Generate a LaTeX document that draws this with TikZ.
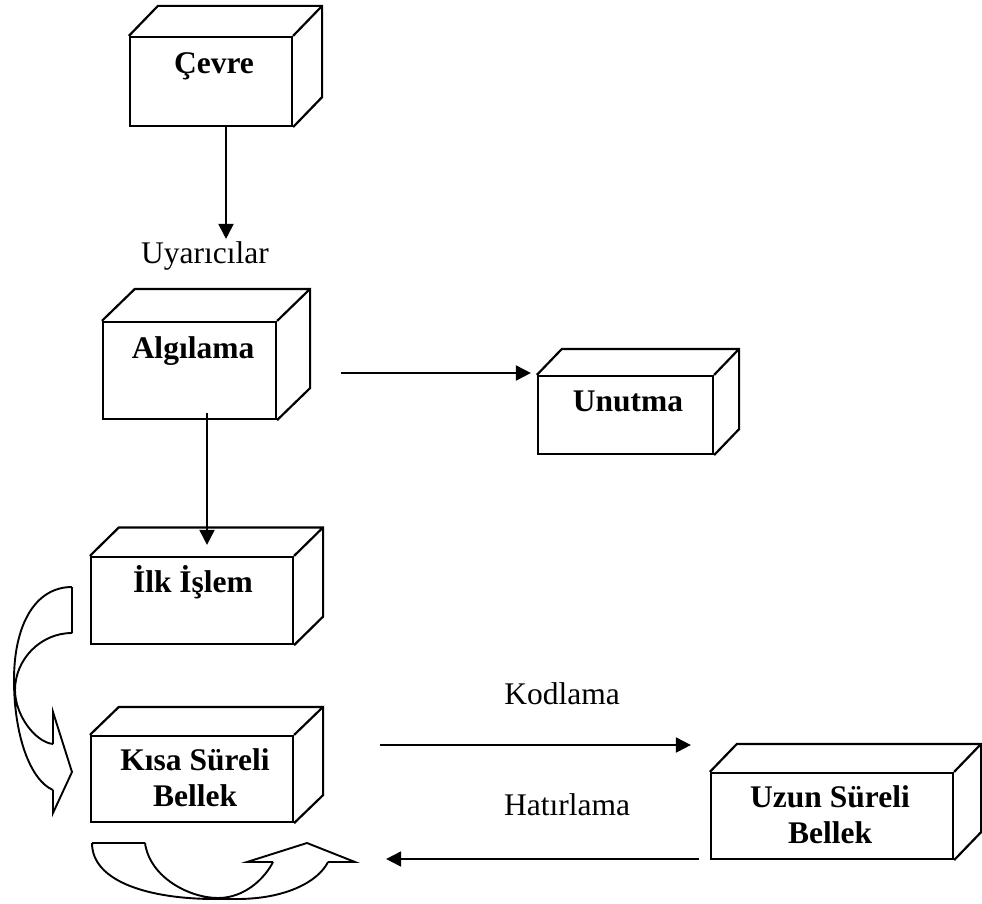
\documentclass[tikz,border=0pt]{standalone}
\usepackage{fontspec}
\setmainfont{Liberation Serif}
\usetikzlibrary{arrows.meta}
\newcommand\cubeback[3]{\draw[cube] (#1.north west) -- ++(#2,#3) -- ([shift={(#2,#3)}]#1.north east) -- ([shift={(#2,#3)}]#1.south east) -- (#1.south east) (#1.north east) -- ++(#2,#3);}
\begin{document}
\begin{tikzpicture}[x=1pt,y=-1pt,
 face/.style={draw, line width=2.2pt, inner sep=0pt},
 cube/.style={line width=2.2pt, line join=miter},
 lbl/.style={font=\fontsize{31.5}{36}\selectfont\bfseries, align=center, inner sep=0pt},
 plain/.style={font=\fontsize{31.5}{36}\selectfont, inner sep=0pt},
 arr/.style={line width=1.9pt, -{Triangle[length=15pt,width=15pt]}},
 curvy/.style={line width=1.9pt, line join=miter}]
\useasboundingbox (0,0) rectangle (982,904);

% front faces
\node[face, minimum width=162pt, minimum height=89pt] (cevre) at (211,81.5) {};
\node[face, minimum width=173pt, minimum height=97pt] (alg) at (189.5,370.5) {};
\node[face, minimum width=175pt, minimum height=78pt] (unut) at (625.5,415) {};
\node[face, minimum width=202pt, minimum height=87pt] (ilk) at (192,600.5) {};
\node[face, minimum width=202pt, minimum height=86pt] (kisa) at (192,779) {};
\node[face, minimum width=242pt, minimum height=86pt] (uzun) at (832,816) {};

% depth faces
\cubeback{cevre}{29}{-30}
\cubeback{alg}{33}{-32}
\cubeback{unut}{25}{-26}
\cubeback{ilk}{29}{-28.5}
\cubeback{kisa}{29}{-28}
\cubeback{uzun}{27}{-28}

% labels
\node[lbl, anchor=base] (cevreT) at (214,74) {Çevre};
\node[lbl, anchor=base] (algT) at (193,358) {Algılama};
\node[lbl, anchor=base] (unutT) at (628,411) {Unutma};
\node[lbl, anchor=base] (ilkT) at (193,592) {İlk İşlem};
\node[lbl] (kisaT) at (195,778) {Kısa Süreli\\Bellek};
\node[lbl] (uzunT) at (830,815) {Uzun Süreli\\Bellek};
\node[plain, anchor=base] (uyar) at (205,263) {Uyarıcılar};
\node[plain, anchor=base] (kod) at (562,704) {Kodlama};
\node[plain, anchor=base] (hat) at (567,815) {Hatırlama};

% connectors
\draw[arr] ([xshift=15pt]cevre.south) -- ([xshift=15pt,yshift=2pt]cevre.south |- uyar.north);
\draw[arr] ([shift={(17.5,-7)}]alg.south) -- ([shift={(15,-11)}]ilk.north);
\draw[arr] ([shift={(64,2.5)}]alg.east) -- ([shift={(-6,-42)}]unut.west);
\draw[arr] ([shift={(86,-34)}]kisa.east) -- ([shift={(-19,-71)}]uzun.west);
\draw[arr] ([shift={(-11,43)}]uzun.west) -- ([shift={(92,80)}]kisa.east);

% left curved arrow
\draw[curvy] (72,587) -- (72,633)
 (72,587) .. controls (35,587) and (14,625) .. (14,680) .. controls (14,735) and (30,780) .. (53,790)
 (72,633) .. controls (40,633) and (15,660) .. (15,690) .. controls (15,715) and (35,742) .. (53,744)
 (53,744) -- (53,712) -- (72,772) -- (53,813) -- (53,790);

% bottom curved arrow
\draw[curvy] (92,843) -- (145,843)
 (92,843) .. controls (92,882) and (150,899) .. (215,899) -- (237,899) .. controls (285,899) and (318,882) .. (328,862)
 (145,843) .. controls (150,878) and (190,898) .. (218,898) .. controls (245,898) and (265,878) .. (273,862)
 (273,862) -- (247,862) -- (307,843) -- (355,862) -- (328,862);
\end{tikzpicture}
\end{document}
